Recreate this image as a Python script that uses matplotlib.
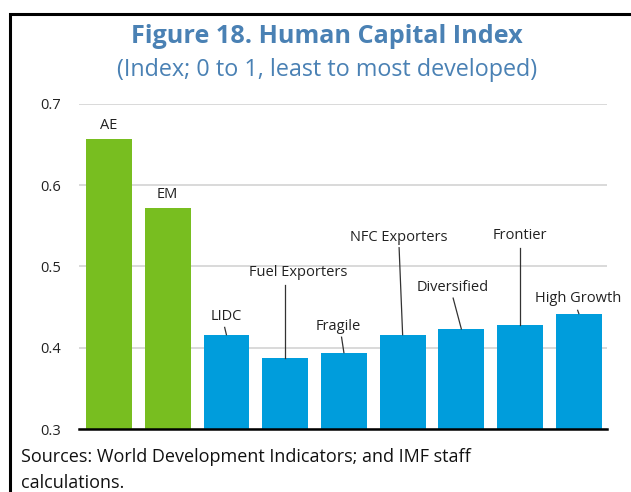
import matplotlib
matplotlib.use("Agg")
import matplotlib.pyplot as plt
from matplotlib.patches import Rectangle

# datos
grupos = ["AE", "EM", "LIDC", "Fuel Exporters", "Fragile", "NFC Exporters",
          "Diversified", "Frontier", "High Growth"]
valores = [0.657, 0.572, 0.416, 0.387, 0.394, 0.416, 0.423, 0.428, 0.442]
es_verde = [True, True, False, False, False, False, False, False, False]
marcas_y = [0.3, 0.4, 0.5, 0.6, 0.7]

# posicion de cada etiqueta (x, y) y punto superior de su linea guia
pos_etiqueta = [(0, 0.673), (1, 0.588), (2.0, 0.438), (3.23, 0.493), (3.9, 0.426),
                (4.94, 0.536), (5.86, 0.474), (7.0, 0.5375), (7.98, 0.461)]
inicio_linea = [None, None, (1.97, 0.425), (3.0, 0.477), (3.96, 0.413),
                (4.94, 0.523), (5.86, 0.461), (7.0, 0.523), (7.98, 0.446)]

VERDE = "#78be20"
AZUL = "#009ddc"
AZUL_TITULO = "#4a81b4"

plt.rcParams["font.family"] = ["Open Sans", "DejaVu Sans"]

fig = plt.figure(figsize=(6.31, 4.92), dpi=100)
ax = fig.add_axes([0.1252, 0.128, 0.8368, 0.661])

colores = [VERDE if v else AZUL for v in es_verde]
x = list(range(len(grupos)))
ax.bar(x, valores, width=0.78, color=colores, zorder=3)

for i, (nombre, v) in enumerate(zip(grupos, valores)):
    lx, ly = pos_etiqueta[i]
    ax.text(lx, ly, nombre, ha="center", va="center", fontsize=10.5, color="#222222", zorder=4)
    if inicio_linea[i] is not None:
        sx, sy = inicio_linea[i]
        ax.plot([sx, i], [sy, v], color="#333333", linewidth=0.9, zorder=4)

ax.set_ylim(0.3, 0.7)
ax.set_xlim(-0.51, 8.48)
ax.set_yticks(marcas_y)
ax.set_yticklabels([f"{m:.1f}" for m in marcas_y])
ax.set_xticks([])
ax.tick_params(axis="y", length=0, labelsize=10.5, pad=13, colors="#222222")
ax.grid(axis="y", color="#d9d9d9", linewidth=1.4, zorder=0)
for lado in ["top", "right", "left"]:
    ax.spines[lado].set_visible(False)
ax.spines["bottom"].set_linewidth(1.8)
ax.spines["bottom"].set_zorder(5)

# marco negro
fig.patches.append(Rectangle((10 / 631, -0.1), 1.2, 1.1 - 13.5 / 492, transform=fig.transFigure,
                             fill=False, edgecolor="black", linewidth=2.2))

fig.text(327 / 631, 1 - 43 / 492, "Figure 18. Human Capital Index", ha="center", va="baseline",
         fontsize=18.2, fontweight="bold", color=AZUL_TITULO)
fig.text(327 / 631, 1 - 76 / 492, "(Index; 0 to 1, least to most developed)", ha="center", va="baseline",
         fontsize=16.8, color=AZUL_TITULO)
fig.text(21 / 631, 1 - 462 / 492, "Sources: World Development Indicators; and IMF staff",
         ha="left", va="baseline", fontsize=13, color="#111111")
fig.text(21 / 631, 1 - 488 / 492, "calculations.",
         ha="left", va="baseline", fontsize=13, color="#111111")

fig.savefig("out.png", dpi=100)
plt.close(fig)
